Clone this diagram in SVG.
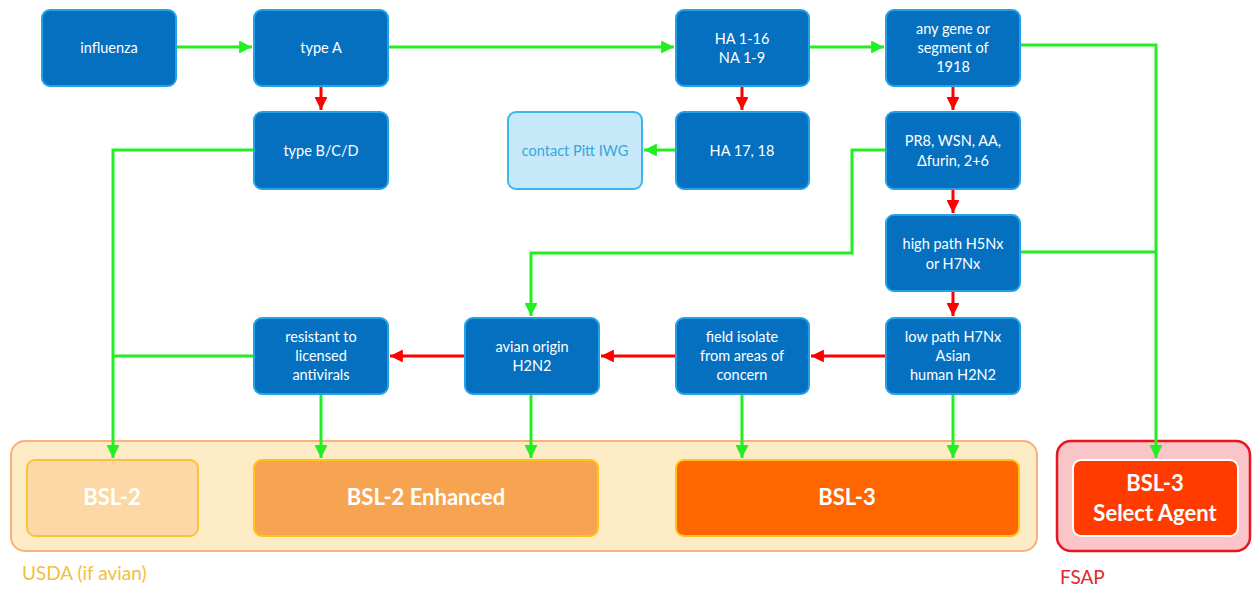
<svg xmlns="http://www.w3.org/2000/svg" width="1252" height="590" viewBox="0 0 1252 590">
<style>
.n rect{fill:#0670C0;stroke:#23A3E6;stroke-width:2}
.n text{fill:#fff;font-family:Lato,"Open Sans",sans-serif;font-size:14.5px;text-anchor:middle}
.g{fill:none;stroke:#22EE22;stroke-width:3}
.r{fill:none;stroke:#F00;stroke-width:3}
.b text{font-family:Lato,"Open Sans",sans-serif;font-weight:bold;font-size:22px;text-anchor:middle;fill:#fff}
</style>
<defs>
<marker id="ag" viewBox="0 0 10 10" refX="10" refY="5" markerWidth="4.3" markerHeight="4.3" orient="auto" markerUnits="strokeWidth"><path d="M0,0L10,5L0,10z" fill="#22EE22"/></marker>
<marker id="ar" viewBox="0 0 10 10" refX="10" refY="5" markerWidth="4.3" markerHeight="4.3" orient="auto" markerUnits="strokeWidth"><path d="M0,0L10,5L0,10z" fill="#F00"/></marker>
</defs>
<rect width="1252" height="590" fill="#fff"/>
<g id="usda" class="b">
<rect x="11" y="441" width="1026" height="110" rx="14" fill="#FDEBC6" stroke="#F5B27A" stroke-width="2"/>
<text x="22" y="580" style="font-weight:normal;font-size:19px;fill:#F2C040;text-anchor:start">USDA (if avian)</text>
</g>
<g id="bsl2" class="b"><rect x="27" y="460" width="171" height="76" rx="8" fill="#FBD8A6" stroke="#F7C33C" stroke-width="2"/><text x="112" y="505">BSL-2</text></g>
<g id="bsl2e" class="b"><rect x="254" y="460" width="344" height="76" rx="8" fill="#F7A452" stroke="#FFC21A" stroke-width="2"/><text x="426" y="505">BSL-2 Enhanced</text></g>
<g id="bsl3" class="b"><rect x="676" y="460" width="343" height="76" rx="8" fill="#FF6600" stroke="#FFC21A" stroke-width="2"/><text x="847" y="505">BSL-3</text></g>
<g id="fsap" class="b">
<rect x="1057" y="441" width="193" height="110" rx="14" fill="#F9C5C8" stroke="#E8141F" stroke-width="2.5"/>
<rect x="1073" y="460" width="165" height="76" rx="8" fill="#FF3B00" stroke="#fff" stroke-width="2"/>
<text x="1155" y="491">BSL-3</text><text x="1155" y="521">Select Agent</text>
<text x="1060" y="584" style="font-weight:normal;font-size:19px;fill:#E0282D;text-anchor:start">FSAP</text>
</g>
<g id="connectors">
<path class="g" d="M176,47H252" marker-end="url(#ag)"/>
<path class="g" d="M388,47H674" marker-end="url(#ag)"/>
<path class="g" d="M809,47H884" marker-end="url(#ag)"/>
<path class="g" d="M1020,45H1156V458" marker-end="url(#ag)"/>
<path class="g" d="M1020,252H1156"/>
<path class="r" d="M321,87V110" marker-end="url(#ar)"/>
<path class="r" d="M742,87V110" marker-end="url(#ar)"/>
<path class="g" d="M676,150H644" marker-end="url(#ag)"/>
<path class="g" d="M254,150H113V458" marker-end="url(#ag)"/>
<path class="g" d="M254,356H113"/>
<path class="r" d="M953,87V110" marker-end="url(#ar)"/>
<path class="r" d="M953,190V213" marker-end="url(#ar)"/>
<path class="r" d="M953,292V316" marker-end="url(#ar)"/>
<path class="g" d="M886,150H852V253H531V316" marker-end="url(#ag)"/>
<path class="r" d="M886,356H811" marker-end="url(#ar)"/>
<path class="r" d="M676,356H601" marker-end="url(#ar)"/>
<path class="r" d="M465,356H390" marker-end="url(#ar)"/>
<path class="g" d="M321,395V458" marker-end="url(#ag)"/>
<path class="g" d="M531,395V458" marker-end="url(#ag)"/>
<path class="g" d="M742,395V458" marker-end="url(#ag)"/>
<path class="g" d="M953,395V458" marker-end="url(#ag)"/>
</g>
<g id="influenza" class="n"><rect x="42" y="10" width="134" height="76" rx="8"/><text x="109" y="53">influenza</text></g>
<g id="typeA" class="n"><rect x="254" y="10" width="134" height="76" rx="8"/><text x="321" y="53">type A</text></g>
<g id="typeBCD" class="n"><rect x="254" y="112" width="134" height="77" rx="8"/><text x="321" y="156">type B/C/D</text></g>
<g id="ha116" class="n"><rect x="676" y="10" width="133" height="76" rx="8"/><text x="742" y="44">HA 1-16</text><text x="742" y="63">NA 1-9</text></g>
<g id="ha1718" class="n"><rect x="676" y="112" width="133" height="77" rx="8"/><text x="742" y="156">HA 17, 18</text></g>
<g id="pitt" class="n"><rect x="508" y="112" width="134" height="77" rx="8" style="fill:#C6E8F8;stroke:#3DB6E8"/><text x="575" y="156" style="fill:#34A8DC">contact Pitt IWG</text></g>
<g id="gene1918" class="n"><rect x="886" y="10" width="134" height="76" rx="8"/><text x="953" y="34">any gene or</text><text x="953" y="53">segment of</text><text x="953" y="72">1918</text></g>
<g id="pr8" class="n"><rect x="886" y="112" width="134" height="77" rx="8"/><text x="953" y="146">PR8, WSN, AA,</text><text x="953" y="166">Δfurin, 2+6</text></g>
<g id="highpath" class="n"><rect x="886" y="215" width="134" height="76" rx="8"/><text x="953" y="249">high path H5Nx</text><text x="953" y="269">or H7Nx</text></g>
<g id="lowpath" class="n"><rect x="886" y="318" width="134" height="76" rx="8"/><text x="953" y="342">low path H7Nx</text><text x="953" y="361">Asian</text><text x="953" y="380">human H2N2</text></g>
<g id="field" class="n"><rect x="676" y="318" width="133" height="76" rx="8"/><text x="742" y="342">field isolate</text><text x="742" y="361">from areas of</text><text x="742" y="380">concern</text></g>
<g id="avian" class="n"><rect x="465" y="318" width="134" height="76" rx="8"/><text x="532" y="352">avian origin</text><text x="532" y="371">H2N2</text></g>
<g id="resistant" class="n"><rect x="254" y="318" width="134" height="76" rx="8"/><text x="321" y="342">resistant to</text><text x="321" y="361">licensed</text><text x="321" y="380">antivirals</text></g>
</svg>
